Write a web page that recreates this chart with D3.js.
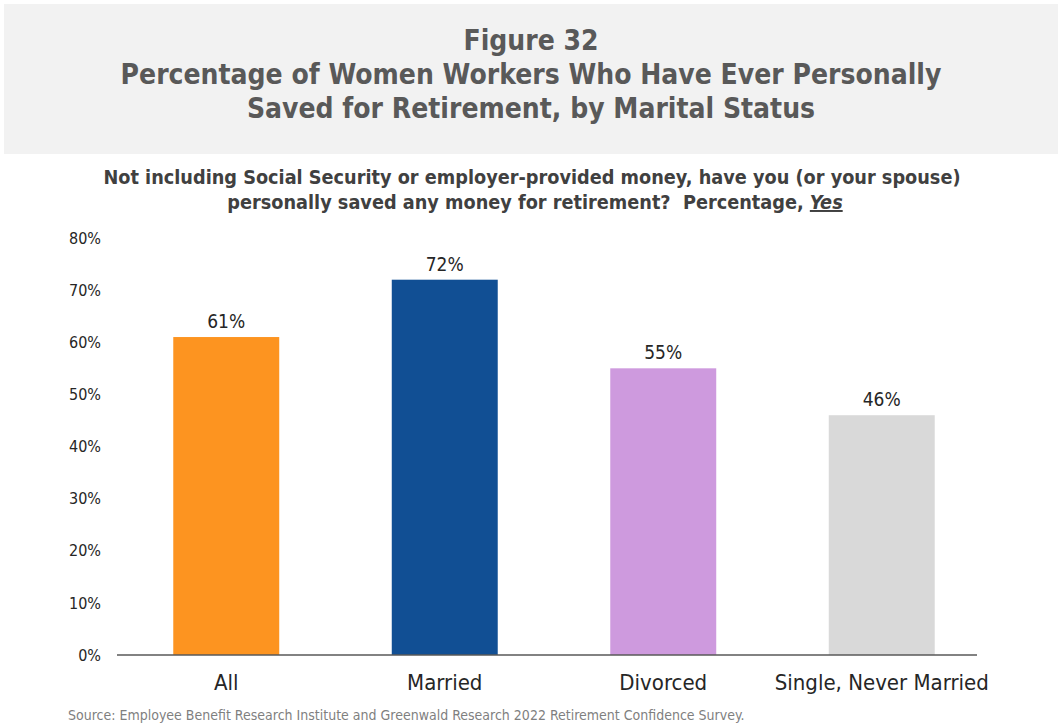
<!DOCTYPE html>
<html>
<head>
<meta charset="utf-8">
<script src="https://cdn.jsdelivr.net/npm/d3@7"></script>
<style>
  body { margin: 0; background: #fff; }
  svg text { font-family: "DejaVu Sans Condensed", "DejaVu Sans", sans-serif; }
</style>
</head>
<body>
<div id="chart"></div>
<script>
// data
const categories = ["All", "Married", "Divorced", "Single, Never Married"]
const values = [61, 72, 55, 46]
const barColors = ["#FD9420", "#114F94", "#CE9ADE", "#D9D9D9"]
const yTicks = [0, 10, 20, 30, 40, 50, 60, 70, 80]

const titleLines = [
  "Figure 32",
  "Percentage of Women Workers Who Have Ever Personally",
  "Saved for Retirement, by Marital Status"
]
const questionLines = [
  "Not including Social Security or employer-provided money, have you (or your spouse)",
  "personally saved any money for retirement?  Percentage, "
]
const sourceText = "Source: Employee Benefit Research Institute and Greenwald Research 2022 Retirement Confidence Survey."

const width = 1062
const height = 728

const svg = d3.select("#chart")
  .append("svg")
  .attr("width", width)
  .attr("height", height)

// title box
svg.append("rect")
  .attr("x", 4).attr("y", 4)
  .attr("width", 1054).attr("height", 150)
  .attr("fill", "#F2F2F2")

svg.append("g")
  .selectAll("text")
  .data(titleLines)
  .enter().append("text")
  .attr("x", 531)
  .attr("y", (d, i) => 50 + i * 34)
  .attr("text-anchor", "middle")
  .attr("font-size", 28)
  .attr("font-weight", "bold")
  .attr("fill", "#595959")
  .text(d => d)

// question text
const q = svg.append("g")
q.append("text")
  .attr("x", 532).attr("y", 184)
  .attr("text-anchor", "middle")
  .attr("font-size", 19.7)
  .attr("font-weight", "bold")
  .attr("fill", "#404040")
  .text(questionLines[0])

const q2 = q.append("text")
  .attr("x", 535).attr("y", 209)
  .attr("text-anchor", "middle")
  .attr("font-size", 19.7)
  .attr("font-weight", "bold")
  .attr("fill", "#404040")
q2.append("tspan").attr("xml:space", "preserve").text(questionLines[1])
q2.append("tspan")
  .attr("font-style", "italic")
  .attr("text-decoration", "underline")
  .text("Yes")

// scales
const x = d3.scaleBand()
  .domain(categories)
  .range([117, 991])
  .paddingInner(0.515)
  .paddingOuter(0.2575)

const y = d3.scaleLinear()
  .domain([0, 80])
  .range([655, 238])

// y axis labels
const yAxis = svg.append("g")
  .attr("transform", "translate(101,0)")
  .call(d3.axisLeft(y).tickValues(yTicks).tickFormat(d => d + "%").tickSize(0).tickPadding(0))
yAxis.select(".domain").remove()
yAxis.selectAll("text")
  .attr("font-size", 16)
  .attr("fill", "#262626")

// bars
svg.append("g")
  .selectAll("rect")
  .data(values)
  .enter().append("rect")
  .attr("x", (d, i) => x(categories[i]))
  .attr("y", d => y(d))
  .attr("width", x.bandwidth())
  .attr("height", d => y(0) - y(d))
  .attr("fill", (d, i) => barColors[i])

// value labels
svg.append("g")
  .selectAll("text")
  .data(values)
  .enter().append("text")
  .attr("x", (d, i) => x(categories[i]) + x.bandwidth() / 2)
  .attr("y", d => y(d) - 9)
  .attr("text-anchor", "middle")
  .attr("font-size", 19)
  .attr("fill", "#262626")
  .text(d => d + "%")

// baseline
svg.append("line")
  .attr("x1", 117).attr("x2", 977)
  .attr("y1", y(0)).attr("y2", y(0))
  .attr("stroke", "#595959")
  .attr("stroke-width", 1.3)

// category labels
const xAxis = svg.append("g")
  .attr("transform", `translate(0,${y(0)})`)
  .call(d3.axisBottom(x).tickSize(0).tickPadding(19))
xAxis.select(".domain").remove()
xAxis.selectAll("text")
  .attr("font-size", 22)
  .attr("fill", "#262626")

// source
svg.append("text")
  .attr("x", 68).attr("y", 720)
  .attr("font-size", 14)
  .attr("fill", "#7F7F7F")
  .text(sourceText)
</script>
</body>
</html>
